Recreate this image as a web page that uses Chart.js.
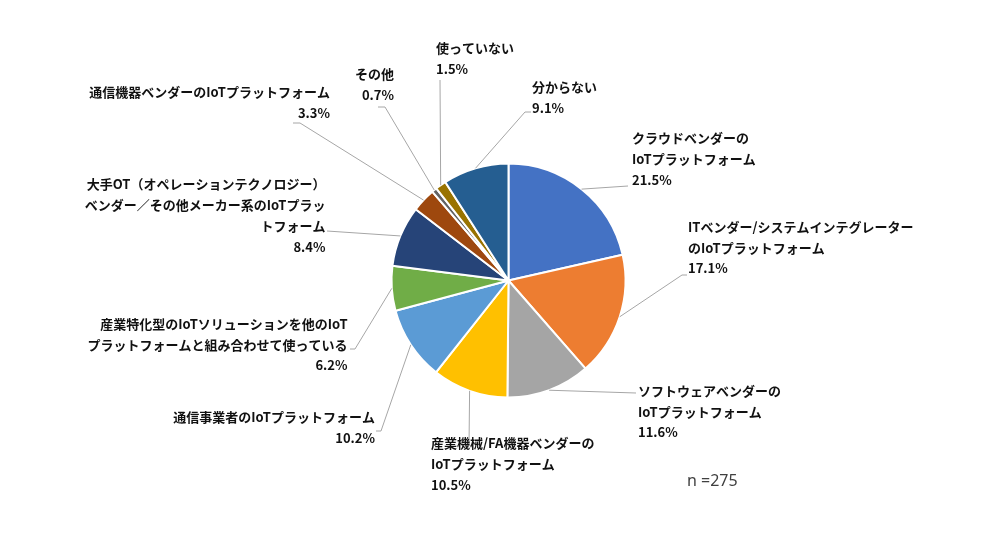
<!DOCTYPE html>
<html>
<head>
<meta charset="utf-8">
<script src="https://cdn.jsdelivr.net/npm/chart.js@4"></script>
<style>
  body { margin: 0; background: #fff; }
  canvas { display: block; }
</style>
</head>
<body>
<canvas id="pieChart" width="983" height="537"></canvas>
<script>
// categories (line breaks as in the original labels)
const categories = [
  "クラウドベンダーの\nIoTプラットフォーム",
  "ITベンダー/システムインテグレーター\nのIoTプラットフォーム",
  "ソフトウェアベンダーの\nIoTプラットフォーム",
  "産業機械/FA機器ベンダーの\nIoTプラットフォーム",
  "通信事業者のIoTプラットフォーム",
  "産業特化型のIoTソリューションを他のIoT\nプラットフォームと組み合わせて使っている",
  "大手OT（オペレーションテクノロジー）\nベンダー／その他メーカー系のIoTプラッ\nトフォーム",
  "通信機器ベンダーのIoTプラットフォーム",
  "その他",
  "使っていない",
  "分からない",
];
const shares = [21.5, 17.1, 11.6, 10.5, 10.2, 6.2, 8.4, 3.3, 0.7, 1.5, 9.1];
const sampleSize = 275;

const colors = [
  "#4472C4", "#ED7D31", "#A5A5A5", "#FFC000", "#5B9BD5", "#70AD47",
  "#264478", "#9E480E", "#636363", "#997300", "#255E91",
];

// where each label sits and how its leader line bends (layout only)
const labelLayout = [
  { x: 632, y: 138.5, align: "left", leader: [[628, 186]] },
  { x: 688, y: 227, align: "left", leader: [[682, 275], [687, 275]] },
  { x: 638, y: 391, align: "left", leader: [[636, 393]] },
  { x: 431, y: 443.5, align: "left", leader: [[469, 446]] },
  { x: 375, y: 417.5, align: "right", leader: [[381, 431], [376, 431]] },
  { x: 347.5, y: 324, align: "right", leader: [[355, 349], [350, 349]] },
  { x: 325.5, y: 184.5, align: "right", leader: [[327, 231]] },
  { x: 330, y: 92, align: "right", leader: [[300, 123], [293, 123]] },
  { x: 394, y: 74, align: "right", leader: [[385, 107], [378, 107]] },
  { x: 436, y: 48, align: "left", leader: [[440, 80]] },
  { x: 532, y: 87, align: "left", leader: [[525, 112], [531, 112]] },
];

const LINE_H = 20.7;
const labelFont = "bold 13px 'Noto Sans CJK JP', 'Noto Sans', sans-serif";

// draws leader lines and the data labels around the pie
const leaderLabels = {
  id: "leaderLabels",
  afterDraw(chart) {
    const ctx = chart.ctx;
    const meta = chart.getDatasetMeta(0);
    ctx.save();
    meta.data.forEach((arc, i) => {
      const p = arc.getProps(["x", "y", "startAngle", "endAngle", "outerRadius"], true);
      const mid = (p.startAngle + p.endAngle) / 2;
      const sx = p.x + Math.cos(mid) * p.outerRadius;
      const sy = p.y + Math.sin(mid) * p.outerRadius;
      const lay = labelLayout[i];

      ctx.strokeStyle = "#A6A6A6";
      ctx.lineWidth = 1;
      ctx.beginPath();
      ctx.moveTo(sx, sy);
      lay.leader.forEach(([lx, ly]) => ctx.lineTo(lx, ly));
      ctx.stroke();

      const lines = categories[i].split("\n");
      lines.push(shares[i].toFixed(1) + "%");
      ctx.font = labelFont;
      ctx.fillStyle = "#111111";
      ctx.textAlign = lay.align;
      ctx.textBaseline = "middle";
      lines.forEach((t, k) => ctx.fillText(t, lay.x, lay.y + k * LINE_H));
    });

    ctx.font = "16px 'Noto Sans', sans-serif";
    ctx.fillStyle = "#404040";
    ctx.textAlign = "left";
    ctx.textBaseline = "middle";
    ctx.fillText("n =" + sampleSize, 687, 481);
    ctx.restore();
  },
};

const ctx = document.getElementById("pieChart").getContext("2d");
new Chart(ctx, {
  type: "pie",
  data: {
    labels: categories,
    datasets: [
      {
        data: shares,
        backgroundColor: colors,
        borderColor: "#FFFFFF",
        borderWidth: 2,
      },
    ],
  },
  options: {
    responsive: false,
    animation: false,
    layout: {
      padding: { left: 390.5, right: 356.5, top: 162.5, bottom: 138.5 },
    },
    plugins: {
      legend: { display: false },
      tooltip: { enabled: false },
    },
  },
  plugins: [leaderLabels],
});
</script>
</body>
</html>
